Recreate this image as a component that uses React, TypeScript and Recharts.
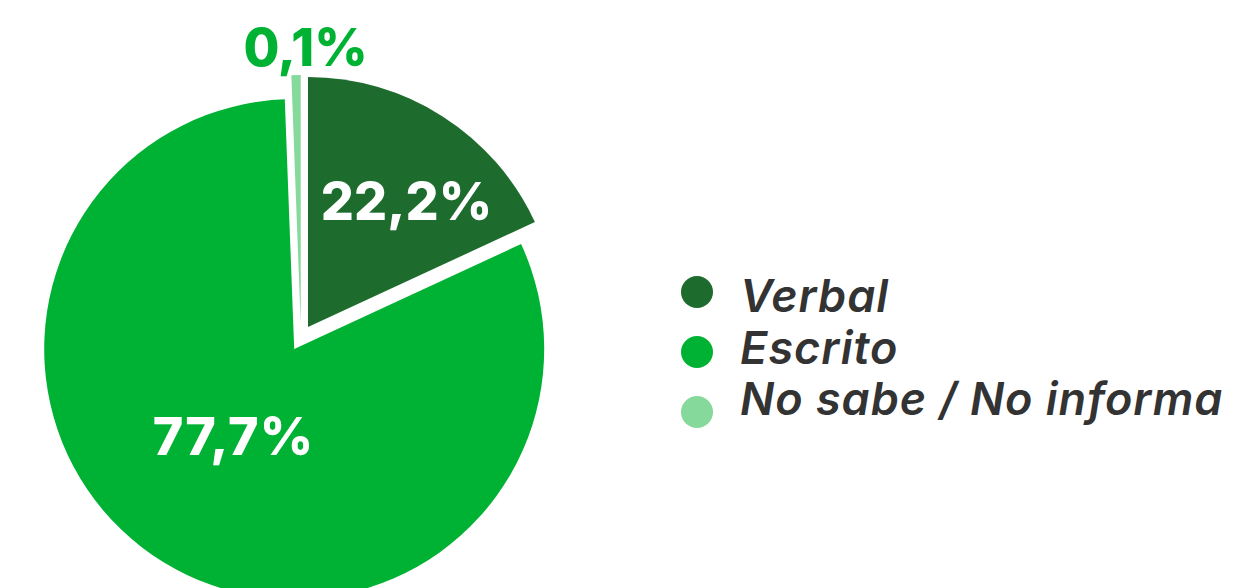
import { PieChart, Pie, Cell, Legend } from 'recharts';

// slice sizes as drawn (%), and the printed labels
const categories = ['Verbal', 'Escrito', 'No sabe / No informa'];
const shares = [18.1, 81.3, 0.6];
const percentLabels = ['22,2%', '77,7%', '0,1%'];
const colors = ['#1d6b2d', '#00b233', '#84d99b'];

const data = categories.map((name, i) => ({ name, value: shares[i], label: percentLabels[i] }));

const CX = 293;
const CY = 330;
const R = 250;
const EXPLODE = 13;
const RAD = Math.PI / 180;

// clock angles (degrees from 12 o'clock, clockwise) of each slice middle
const total = shares.reduce((a, b) => a + b, 0);
const midAngles = shares.map((v, i) => {
  const before = shares.slice(0, i).reduce((a, b) => a + b, 0);
  return ((before + v / 2) / total) * 360;
});
const offsets = midAngles.map((a) => ({ dx: EXPLODE * Math.sin(a * RAD), dy: -EXPLODE * Math.cos(a * RAD) }));

// label placement relative to each exploded slice centre
const labelPos = [
  { r: 160, a: 38, color: '#ffffff' },
  { r: 106, a: 215, color: '#ffffff' },
  { r: 278, a: 1, color: '#00b233' },
];

const FONT = 'Inter, "Noto Sans", sans-serif';

function renderLabel(props: any) {
  const i = props.index;
  const p = labelPos[i];
  const x = CX + offsets[i].dx + p.r * Math.sin(p.a * RAD);
  const y = CY + offsets[i].dy - p.r * Math.cos(p.a * RAD);
  return (
    <text
      key={`lbl-${i}`}
      x={x}
      y={y + 19}
      textAnchor="middle"
      fill={p.color}
      fontFamily={FONT}
      fontWeight={800}
      fontSize={52}
      letterSpacing={i === 1 ? 1 : 0}
    >
      {data[i].label}
    </text>
  );
}

// legend keeps the data order (Verbal, Escrito, No sabe)
function renderLegend() {
  return (
    <svg width={560} height={180} style={{ display: 'block' }}>
      {categories.map((name, i) => (
        <g key={`leg-${i}`}>
          <circle cx={27} cy={32 + i * 60} r={16} fill={colors[i]} />
          <text
            x={70}
            y={52 + i * 51.5}
            fill="#333333"
            fontFamily={FONT}
            fontStyle="italic"
            fontWeight={600}
            fontSize={45}
            letterSpacing={1}
          >
            {name}
          </text>
        </g>
      ))}
    </svg>
  );
}

export default function App() {
  return (
    <PieChart width={1231} height={580} margin={{ top: 0, right: 0, bottom: 0, left: 0 }}>
      <Pie
        data={data}
        dataKey="value"
        nameKey="name"
        cx={CX}
        cy={CY}
        outerRadius={R}
        startAngle={90}
        endAngle={-270}
        stroke="none"
        label={renderLabel}
        labelLine={false}
        isAnimationActive={false}
      >
        {data.map((d, i) => (
          <Cell
            key={d.name}
            fill={colors[i]}
            transform={`translate(${offsets[i].dx}, ${offsets[i].dy})`}
          />
        ))}
      </Pie>
      <Legend
        layout="vertical"
        align="right"
        verticalAlign="middle"
        content={renderLegend}
        wrapperStyle={{ left: 662, top: 252, width: 560, height: 180 }}
      />
    </PieChart>
  );
}
